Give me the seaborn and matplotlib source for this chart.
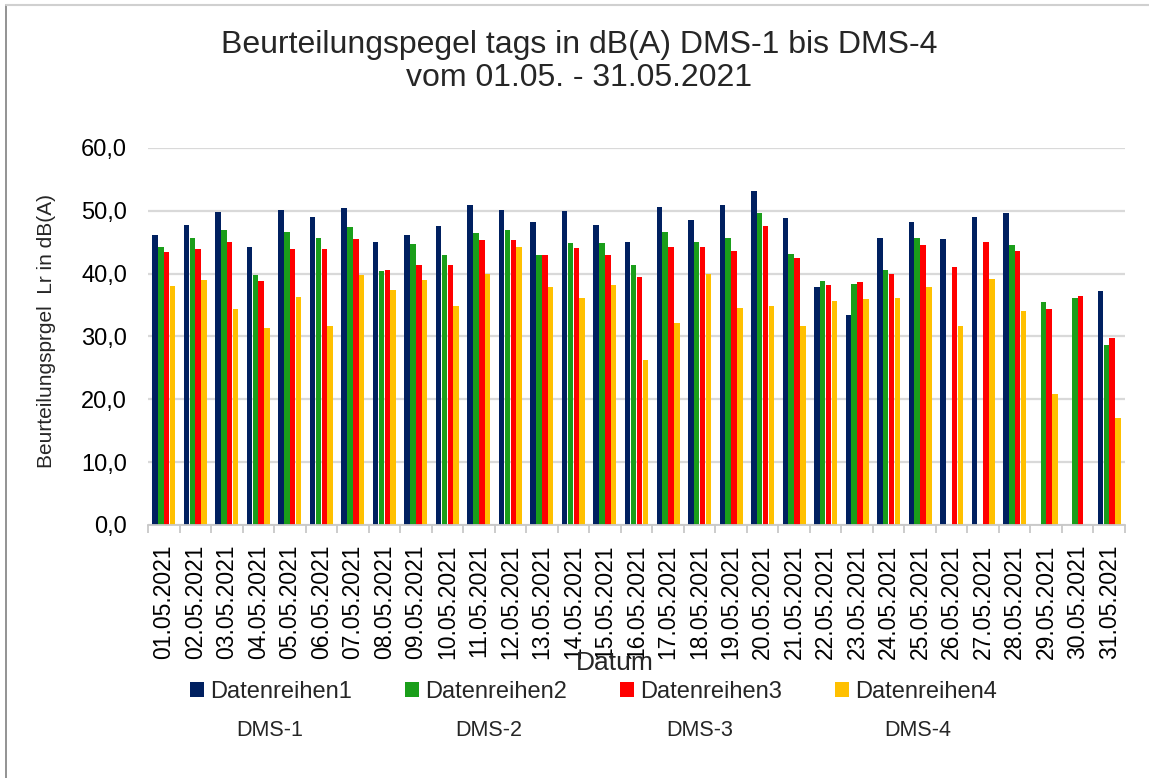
import numpy as np
import pandas as pd
import matplotlib
matplotlib.use("Agg")
import matplotlib.pyplot as plt
import seaborn as sns
from matplotlib.ticker import FuncFormatter, FixedLocator
from matplotlib.lines import Line2D

nan = np.nan

dates = ["01.05.2021", "02.05.2021", "03.05.2021", "04.05.2021", "05.05.2021",
         "06.05.2021", "07.05.2021", "08.05.2021", "09.05.2021", "10.05.2021",
         "11.05.2021", "12.05.2021", "13.05.2021", "14.05.2021", "15.05.2021",
         "16.05.2021", "17.05.2021", "18.05.2021", "19.05.2021", "20.05.2021",
         "21.05.2021", "22.05.2021", "23.05.2021", "24.05.2021", "25.05.2021",
         "26.05.2021", "27.05.2021", "28.05.2021", "29.05.2021", "30.05.2021",
         "31.05.2021"]

series_names = ["Datenreihen1", "Datenreihen2", "Datenreihen3", "Datenreihen4"]
station_names = ["DMS-1", "DMS-2", "DMS-3", "DMS-4"]

dms1 = [46.2, 47.7, 49.8, 44.2, 50.2, 49.0, 50.5, 45.1, 46.1, 47.6, 51.0, 50.2,
        48.3, 49.9, 47.8, 45.0, 50.6, 48.6, 51.0, 53.2, 48.9, 37.9, 33.5, 45.6,
        48.3, 45.5, 49.0, 49.6, nan, nan, 37.2]
dms2 = [44.3, 45.6, 46.9, 39.8, 46.7, 45.6, 47.5, 40.5, 44.8, 42.9, 46.5, 46.9,
        43.0, 44.9, 44.9, 41.3, 46.6, 45.0, 45.6, 49.7, 43.2, 38.8, 38.4, 40.6,
        45.7, nan, nan, 44.6, 35.5, 36.1, 28.7]
dms3 = [43.5, 44.0, 45.1, 38.8, 43.9, 43.9, 45.5, 40.6, 41.4, 41.4, 45.4, 45.3,
        42.9, 44.1, 42.9, 39.5, 44.2, 44.2, 43.6, 47.6, 42.5, 38.2, 38.6, 39.9,
        44.5, 41.1, 45.1, 43.6, 34.4, 36.4, 29.7]
dms4 = [38.0, 39.0, 34.3, 31.4, 36.3, 31.6, 39.8, 37.4, 39.0, 34.9, 39.9, 44.3,
        37.8, 36.2, 38.2, 26.2, 32.1, 40.0, 34.6, 34.9, 31.7, 35.7, 35.9, 36.1,
        37.8, 31.7, 39.1, 34.1, 20.9, nan, 17.1]

colors = ["#002060", "#1A9E1A", "#FF0000", "#FFC000"]

frames = []
for name, vals in zip(series_names, [dms1, dms2, dms3, dms4]):
    frames.append(pd.DataFrame({"Datum": dates, "Wert": vals, "Reihe": name}))
df = pd.concat(frames, ignore_index=True)

sns.set_theme(style="white")
plt.rcParams["font.family"] = ["Liberation Sans", "DejaVu Sans"]

W, H = 1149, 778
fig = plt.figure(figsize=(W / 100, H / 100), dpi=100)
ax = fig.add_axes([148 / W, 1 - 525 / H, (1125 - 148) / W, (525 - 148) / H])

sns.barplot(data=df, x="Datum", y="Wert", hue="Reihe", order=dates,
            hue_order=series_names, palette=colors, width=0.74, gap=0.06,
            errorbar=None, saturation=1, linewidth=0, ax=ax)

ax.set_xlim(-0.5, len(dates) - 0.5)
ax.set_ylim(0, 60)
ax.set_yticks(np.arange(0, 61, 10))
ax.yaxis.set_major_formatter(FuncFormatter(lambda v, p: f"{v:.1f}".replace(".", ",")))
ax.yaxis.grid(True, color="#d9d9d9", linewidth=1.6)
ax.xaxis.grid(False)
ax.set_axisbelow(True)
for s in ["left", "top", "right"]:
    ax.spines[s].set_visible(False)
ax.spines["bottom"].set_color("#c8c8c8")
ax.spines["bottom"].set_linewidth(1.3)

ax.tick_params(axis="y", length=0, pad=15, labelsize=17, labelcolor="black")
ax.tick_params(axis="x", which="major", length=0, pad=14, labelsize=16.5,
               labelrotation=90, labelcolor="black")
ax.xaxis.set_minor_locator(FixedLocator(np.arange(-0.5, len(dates), 1)))
ax.tick_params(axis="x", which="minor", length=6, width=1.3, color="#c8c8c8",
               direction="out", bottom=True)
ax.set_xlabel("")
ax.set_ylabel("")

handles, labels = ax.get_legend_handles_labels()
if ax.legend_ is not None:
    ax.legend_.remove()
fig.legend(handles, labels, loc="center left",
           bbox_to_anchor=(190 / W, 1 - 692 / H), ncol=4, frameon=False,
           fontsize=17, handlelength=0.6, handleheight=0.6, handletextpad=0.25,
           columnspacing=2.25, borderaxespad=0, borderpad=0)

fig.text(579 / W, 1 - 30 / H,
         "Beurteilungspegel tags in dB(A) DMS-1 bis DMS-4\nvom 01.05. - 31.05.2021",
         ha="center", va="top", fontsize=23, linespacing=1.12)
fig.text(47 / W, 1 - 331 / H, "Beurteilungsprgel  Lr in dB(A)", rotation=90,
         ha="center", va="center", fontsize=15)
fig.text(615 / W, 1 - 663 / H, "Datum", ha="center", va="center", fontsize=19)
for name, xc in zip(station_names, [270, 489, 700, 918]):
    fig.text(xc / W, 1 - 730 / H, name, ha="center", va="center", fontsize=15.5)

fig.add_artist(Line2D([6 / W, 6 / W], [0, 1 - 5 / H], transform=fig.transFigure,
                      color="#808080", linewidth=1.2))
fig.add_artist(Line2D([6 / W, 1], [1 - 5 / H, 1 - 5 / H], transform=fig.transFigure,
                      color="#d0d0d0", linewidth=1.5))

fig.savefig("out.png", dpi=100)
